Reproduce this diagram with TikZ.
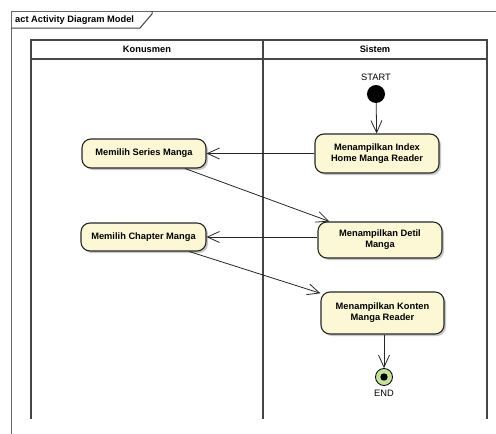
\documentclass[tikz,border=0pt]{standalone}
\usepackage{fontspec}
\setmainfont{Liberation Sans}
\usetikzlibrary{arrows.meta,shadows}
\definecolor{actfill}{RGB}{252,248,214}
\definecolor{endfill}{RGB}{196,226,156}
\definecolor{lanegray}{RGB}{70,70,70}

\begin{document}
\begin{tikzpicture}[x=1pt, y=-1pt,
    every node/.style={font=\fontsize{9.3}{11}\selectfont\bfseries, align=center, inner sep=0pt},
    action/.style={draw=black!85, line width=1.1pt, fill=actfill, rounded corners=9pt,
      minimum width=124pt, drop shadow={shadow xshift=2pt, shadow yshift=-2pt, fill=black!22, opacity=1}},
    initial/.style={circle, fill=black, minimum size=18pt},
    final/.style={circle, draw=black, line width=0.8pt, fill=endfill, minimum size=17pt},
    plaintext/.style={font=\fontsize{9.3}{11}\selectfont},
    flow/.style={draw=black!85, line width=0.8pt, -{Straight Barb[length=12pt, width=11pt]}},
    lane/.style={draw=lanegray, line width=1.3pt}]

    \useasboundingbox (0,0) rectangle (496,434);

    \draw[black!60, line width=1pt] (496,11) -- (11,11) -- (11,434);
    \draw[black!75, line width=1pt] (11,28) -- (140,28) -- (152,14) -- (152,11);
    \node[anchor=west] (title) at (15,20) {act Activity Diagram Model};

    \draw[lane] (31,419) -- (31,40) -- (487,40) -- (487,419);
    \draw[lane] (31,59) -- (487,59);
    \draw[lane] (263,40) -- (263,419);
    \node (konsumen) at (147,49.5) {Konusmen};
    \node (sistem) at (375,49.5) {Sistem};

    \node[plaintext] (startlabel) at (376,77) {START};
    \node[initial] (start) at (376,94) {};
    \node[action, minimum height=39pt] (index) at (377,153.5) {Menampilkan Index\\Home Manga Reader};
    \node[action, minimum height=29pt] (series) at (144,153.5) {Memilih Series Manga};
    \node[action, minimum height=36pt] (detil) at (380,240) {Menampilkan Detil\\Manga};
    \node[action, minimum height=28pt, minimum width=125pt] (chapter) at (143.5,237) {Memilih Chapter Manga};
    \node[action, minimum height=42pt, minimum width=123pt] (konten) at (382.5,313) {Menampilkan Konten\\Manga Reader};
    \node[final] (end) at (384,377) {};
    \fill (end.center) circle (3.7pt);
    \node[plaintext] (endlabel) at (384,393) {END};

    \draw[flow] (start) -- (index);
    \draw[flow] (index) -- (series);
    \draw[flow] (series) -- (detil);
    \draw[flow] (detil.west |- chapter.east) -- (chapter.east);
    \draw[flow] (chapter) -- (konten);
    \draw[flow] (konten.south -| end.north) -- (end);

\end{tikzpicture}
\end{document}
